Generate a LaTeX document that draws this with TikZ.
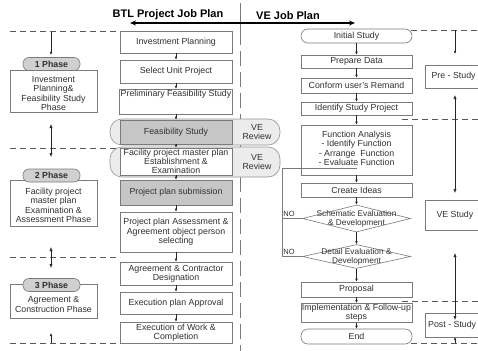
\documentclass[tikz,border=0pt]{standalone}
\usepackage{fontspec}
\setmainfont{Liberation Sans}
\usetikzlibrary{shapes.geometric,arrows.meta}
\definecolor{bd}{HTML}{7A7A7A}
\definecolor{tx}{HTML}{303030}
\definecolor{gfill}{HTML}{C6C6C6}
\definecolor{pfill}{HTML}{D0D0D0}
\definecolor{vfill}{HTML}{ECECEC}
\definecolor{dl}{HTML}{5A5A5A}
\tikzset{
  box/.style={draw=bd, line width=0.6pt, fill=white, align=center, inner sep=1pt},
  gbox/.style={box, fill=gfill},
  pillbox/.style={box, rounded corners=7pt},
  phase/.style={draw=bd, line width=0.6pt, fill=pfill, rounded corners=6pt, inner sep=0pt, minimum width=57pt, minimum height=13pt, font=\bfseries\fontsize{8.8}{9.3}\selectfont},
  vepill/.style={draw=bd!80, line width=0.6pt, fill=vfill, rounded corners=12pt, inner sep=0pt},
  dia/.style={diamond, draw=bd, line width=0.6pt, fill=white, inner sep=0pt},
  ttl/.style={font=\bfseries\fontsize{11}{12}\selectfont, text=black},
  arr/.style={-{Latex[length=3pt,width=2.6pt]}, draw=black!85, line width=0.5pt},
  darr/.style={{Latex[length=4pt,width=3.2pt]}-{Latex[length=4pt,width=3.2pt]}, draw=black!85, line width=0.6pt},
  dline/.style={draw=dl, line width=0.8pt, dash pattern=on 6pt off 4pt},
  ln/.style={draw=bd, line width=0.6pt},
}
\begin{document}
\begin{tikzpicture}[x=1pt,y=-1pt, font=\fontsize{8.8}{9.3}\selectfont, text=tx]
\useasboundingbox (0,0) rectangle (478,350);
\clip (0,0) rectangle (478,350);

% divider
\coordinate (d0) at (240,3); \coordinate (d1) at (240,30); \coordinate (d2) at (240,352);
\draw[bd, line width=0.8pt] (d0) -- (d1);
\draw[bd, line width=0.8pt, dash pattern=on 15pt off 6pt] (d1) -- (d2);

% titles
\node[ttl] (t1) at (168,15) {BTL Project Job Plan};
\node[ttl] (t2) at (288,16) {VE Job Plan};
\coordinate (al) at (130,23); \coordinate (ar) at (355,23);
\draw[line width=1.3pt, {Stealth[length=6pt,width=5pt]}-{Stealth[length=6pt,width=5pt]}] (al) -- (ar);

% VE review pills
\node[vepill, minimum width=170pt, minimum height=26pt] (vr1) at (195,132) {};
\node[vepill, minimum width=170pt, minimum height=30pt] (vr2) at (195,162) {};
\node[align=center] (vr1t) at (257,132) {VE\\Review};
\node[align=center] (vr2t) at (257,162) {VE\\Review};

% BTL column
\node[box, minimum width=112pt, minimum height=22pt] (ip) at (176,42) {Investment Planning};
\node[box, minimum width=112pt, minimum height=23pt] (su) at (176,71.5) {Select Unit Project};
\node[box, minimum width=112pt, minimum height=23pt] (pfs) at (176,101.5) {Preliminary Feasibility Study\\[7pt]\mbox{}};
\node[gbox, minimum width=112pt, minimum height=24pt] (fs) at (176,132) {Feasibility Study};
\node[box, minimum width=112pt, minimum height=27pt] (fp) at (176,161.5) {Facility project master plan\\Establishment \&\\Examination};
\node[gbox, minimum width=112pt, minimum height=25pt] (ps) at (176,192.5) {Project plan submission};
\node[box, minimum width=112pt, minimum height=40pt] (pa) at (176,232) {Project plan Assessment \&\\Agreement object person\\selecting};
\node[box, minimum width=112pt, minimum height=23pt] (ac) at (176,273.5) {Agreement \& Contractor\\Designation};
\node[box, minimum width=112pt, minimum height=22pt] (ep) at (176,303) {Execution plan Approval};
\node[box, minimum width=112pt, minimum height=21pt] (ew) at (176,332.5) {Execution of Work \&\\Completion};
\foreach \a/\b in {ip/su,su/pfs,pfs/fs,fs/fp,fp/ps,ps/pa,pa/ac,ac/ep,ep/ew}
  \draw[arr] (\a) -- (\b);

% left phase column
\node[box, minimum width=87pt, minimum height=42pt] (b1) at (53.5,91) {\mbox{}\\[2pt]Investment\\Planning\&\\Feasibility Study\\Phase};
\node[phase] (p1) at (51.5,64) {1 Phase};
\node[box, minimum width=87pt, minimum height=46pt] (b2) at (53.5,203) {\mbox{}\\[2pt]Facility project\\master plan\\Examination \&\\Assessment Phase};
\node[phase] (p2) at (51.5,175.5) {2 Phase};
\node[box, minimum width=87pt, minimum height=34pt] (b3) at (53.5,301.5) {\mbox{}\\[3pt]Agreement \&\\Construction Phase};
\node[phase] (p3) at (51.5,285) {3 Phase};

\coordinate (l1a) at (10,31);  \coordinate (l1b) at (120,31);
\coordinate (l2a) at (10,148); \coordinate (l2b) at (120,148);
\coordinate (l3a) at (10,257); \coordinate (l3b) at (120,257);
\coordinate (l4a) at (10,343); \coordinate (l4b) at (120,343);
\foreach \a/\b in {l1a/l1b,l2a/l2b,l3a/l3b,l4a/l4b} \draw[dline] (\a) -- (\b);
\coordinate (ua) at (51,32);  \coordinate (ub) at (51,55);
\draw[arr, line width=0.6pt] (ua) -- (ub);
\coordinate (va) at (51,124); \coordinate (vb) at (51,157);
\draw[darr] (va) -- (vb);
\coordinate (wa) at (51,247); \coordinate (wb) at (51,268);
\draw[darr] (wa) -- (wb);
\coordinate (xa) at (51,343); \coordinate (xb) at (51,333);
\draw[arr, line width=0.6pt] (xa) -- (xb);

% VE column
\node[pillbox, minimum width=111pt, minimum height=14pt] (is) at (356.5,36) {Initial Study};
\node[box, minimum width=111pt, minimum height=13pt] (pd) at (356.5,61.5) {Prepare Data};
\node[box, minimum width=111pt, minimum height=15pt] (cu) at (356.5,85.5) {Conform user's Remand};
\node[box, minimum width=111pt, minimum height=13pt] (isp) at (356.5,108.5) {Identify Study Project};
\node[box, minimum width=111pt, minimum height=50pt] (fa) at (356.5,150) {\\[-6pt]Function Analysis\\- Identify Function\\- Arrange\ \ Function\\- Evaluate Function};
\node[box, minimum width=111pt, minimum height=14pt] (ci) at (356.5,190) {Create Ideas};
\node[dia, minimum width=108pt, minimum height=27pt] (sd) at (356.5,218.5) {};
\node[align=center, font=\fontsize{8.3}{9}\selectfont] (sdt) at (sd) {Schematic Evaluation\\\& Development};
\node[dia, minimum width=108pt, minimum height=24pt] (dd) at (356.5,256.5) {};
\node[align=center, font=\fontsize{8.3}{9}\selectfont] (ddt) at (dd) {Detail Evaluation \&\\Development};
\node[box, minimum width=111pt, minimum height=15pt] (pr) at (356.5,289.5) {Proposal};
\node[box, minimum width=111pt, minimum height=18pt] (im) at (356.5,313) {Implementation \& Follow-up\\steps};
\node[pillbox, minimum width=111pt, minimum height=15pt] (en) at (356.5,336.5) {End};
\foreach \a/\b in {is/pd,pd/cu,cu/isp,isp/fa,fa/ci,ci/sd,sd/dd,dd/pr,pr/im,im/en}
  \draw[arr] (\a) -- (\b);

% NO loop
\coordinate (n1) at (282,256.5); \coordinate (n2) at (282,168);
\coordinate (n3) at (356.5,168); \coordinate (n4) at (282,218.5);
\draw[ln] (dd.west) -- (n1) -- (n2) -- (n3);
\draw[ln] (sd.west) -- (n4);
\node[font=\fontsize{7.5}{8}\selectfont] (no1) at (289,213.5) {NO};
\node[font=\fontsize{7.5}{8}\selectfont] (no2) at (289,251.5) {NO};

% right column
\node[box, minimum width=62pt, minimum height=23pt] (pre) at (456,76.5) {};
\node[anchor=west] (pret) at (428,76.5) {Pre - Study};
\node[box, minimum width=62pt, minimum height=30pt] (vs) at (456,215) {};
\node[anchor=west] (vst) at (433,215) {VE Study};
\node[box, minimum width=62pt, minimum height=24pt] (post) at (456,325) {};
\node[anchor=west, inner sep=1pt] (postt) at (427,325) {Post - Study};
\coordinate (r1a) at (411,30);  \coordinate (r1b) at (478,30);  \draw[dline] (r1a) -- (r1b);
\coordinate (r2a) at (402,119.5); \coordinate (r2b) at (478,119.5); \draw[dline] (r2a) -- (r2b);
\coordinate (r3a) at (402,301); \coordinate (r3b) at (478,301); \draw[dline] (r3a) -- (r3b);
\coordinate (r4a) at (411,343); \coordinate (r4b) at (478,343); \draw[dline] (r4a) -- (r4b);
\coordinate (sa) at (455,30); \coordinate (sb) at (455,54);
\draw[arr, line width=0.6pt] (sa) -- (sb);
\coordinate (ta) at (455,95); \coordinate (tb) at (455,193);
\draw[darr] (ta) -- (tb);
\coordinate (qa) at (455,253); \coordinate (qb) at (455,320);
\draw[darr] (qa) -- (qb);
\coordinate (ya) at (455,343); \coordinate (yb) at (455,337);
\draw[arr, line width=0.6pt] (ya) -- (yb);
\end{tikzpicture}
\end{document}
